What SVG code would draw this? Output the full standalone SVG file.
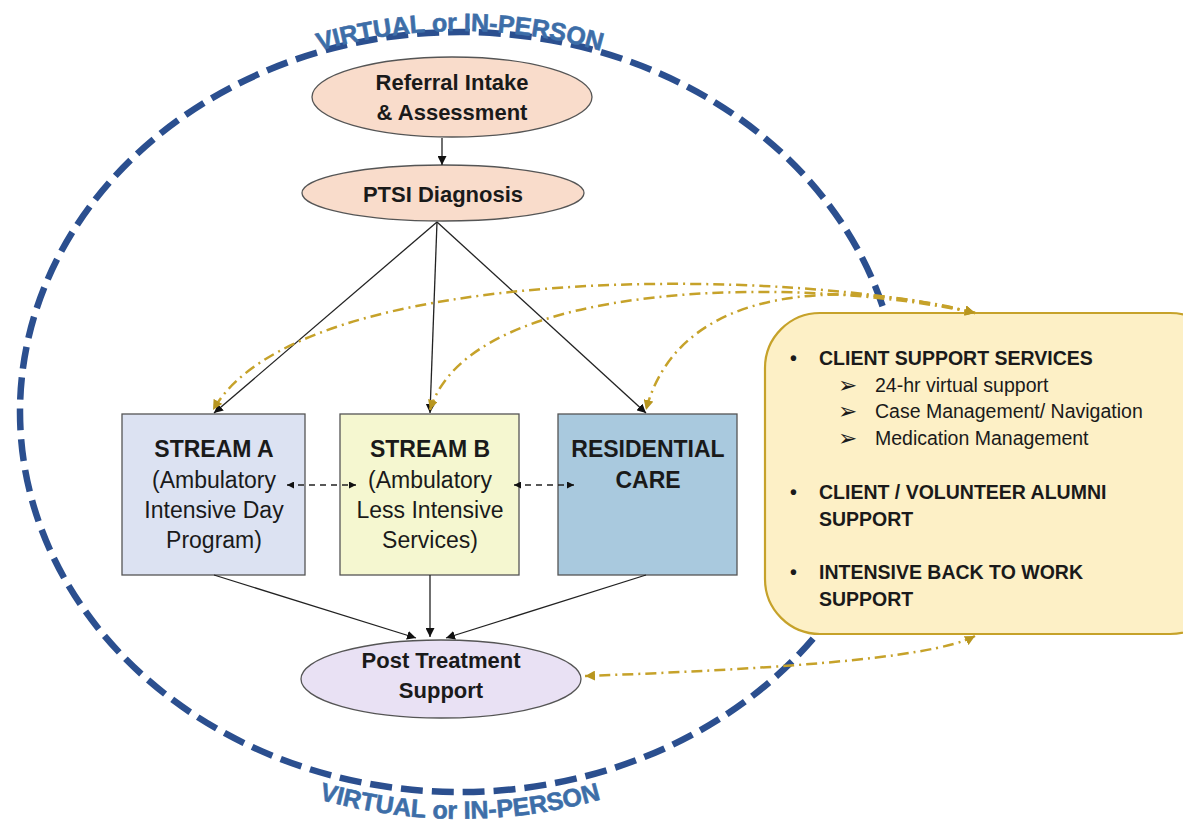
<svg xmlns="http://www.w3.org/2000/svg" width="1183" height="827" viewBox="0 0 1183 827">
<style>
  .t{font-family:"Liberation Sans",Arial,sans-serif;fill:#1a1a1a;text-anchor:middle}
  .b{font-weight:bold}
  .node{stroke:#555;stroke-width:1.3}
  .solid{stroke:#222;stroke-width:1.3;fill:none;marker-end:url(#ah)}
  .dash{stroke:#222;stroke-width:1.5;fill:none;stroke-dasharray:6 5;marker-start:url(#ahs);marker-end:url(#ahs)}
  .gold{stroke:#c6a22a;stroke-width:2.5;fill:none;stroke-dasharray:11 5 2 5;marker-start:url(#gah);marker-end:url(#gah)}
  .arcText{font-family:"Liberation Sans",Arial,sans-serif;font-weight:bold;font-size:25px;fill:#3d6ea8;stroke:#3d6ea8;stroke-width:0.6}
  .bx{font-family:"Liberation Sans",Arial,sans-serif;fill:#1a1a1a;font-size:19.5px}
  .arr{font-family:"DejaVu Sans",sans-serif;fill:#1a1a1a;font-size:23px}
</style>
<defs>
  <marker id="ah" viewBox="0 0 10 10" refX="10" refY="5" markerWidth="9" markerHeight="9" markerUnits="userSpaceOnUse" orient="auto"><path d="M0,0 L10,5 L0,10 z" fill="#111"/></marker>
  <marker id="ahs" viewBox="0 0 10 10" refX="10" refY="5" markerWidth="7" markerHeight="7" markerUnits="userSpaceOnUse" orient="auto-start-reverse"><path d="M0,0 L10,5 L0,10 z" fill="#111"/></marker>
  <marker id="gah" viewBox="0 0 10 10" refX="10" refY="5" markerWidth="10" markerHeight="10" markerUnits="userSpaceOnUse" orient="auto-start-reverse"><path d="M0,0 L10,5 L0,10 z" fill="#b8961f"/></marker>
  <path id="topArc" d="M 18 412 A 442 381 0 0 1 902 412"/>
  <path id="botArc" d="M 0 412 A 460 407 0 0 0 920 412"/>
</defs>
<rect width="1183" height="827" fill="#ffffff"/>

<g id="boundary">
  <ellipse cx="460" cy="412" rx="440" ry="380" fill="none" stroke="#2b4f8f" stroke-width="6.5" stroke-dasharray="22 9"/>
  <text class="arcText"><textPath href="#topArc" startOffset="50%" text-anchor="middle">VIRTUAL or IN-PERSON</textPath></text>
  <text class="arcText"><textPath href="#botArc" startOffset="50%" text-anchor="middle">VIRTUAL or IN-PERSON</textPath></text>
</g>

<g id="referral">
  <ellipse class="node" cx="452" cy="97" rx="140" ry="40" fill="#f9dccb"/>
  <text class="t b" x="452" y="90" font-size="22">Referral Intake</text>
  <text class="t b" x="452" y="120" font-size="22">&amp; Assessment</text>
</g>

<g id="ptsi">
  <ellipse class="node" cx="443" cy="193" rx="141" ry="28" fill="#f9dccb"/>
  <text class="t b" x="443" y="202" font-size="22">PTSI Diagnosis</text>
</g>

<g id="streamA">
  <rect class="node" x="122" y="414" width="183" height="161" fill="#dce2f2"/>
  <text class="t b" x="214" y="457" font-size="23">STREAM A</text>
  <text class="t" x="214" y="488" font-size="23">(Ambulatory</text>
  <text class="t" x="214" y="518" font-size="23">Intensive Day</text>
  <text class="t" x="214" y="548" font-size="23">Program)</text>
</g>

<g id="streamB">
  <rect class="node" x="340" y="414" width="179" height="161" fill="#f5f7d0"/>
  <text class="t b" x="430" y="457" font-size="23">STREAM B</text>
  <text class="t" x="430" y="488" font-size="23">(Ambulatory</text>
  <text class="t" x="430" y="518" font-size="23">Less Intensive</text>
  <text class="t" x="430" y="548" font-size="23">Services)</text>
</g>

<g id="residential">
  <rect class="node" x="558" y="414" width="179" height="161" fill="#a9c9de"/>
  <text class="t b" x="648" y="457" font-size="23">RESIDENTIAL</text>
  <text class="t b" x="648" y="488" font-size="23">CARE</text>
</g>

<g id="postTreatment">
  <ellipse class="node" cx="441" cy="679" rx="140" ry="39" fill="#e9e1f4"/>
  <text class="t b" x="441" y="668" font-size="22">Post Treatment</text>
  <text class="t b" x="441" y="698" font-size="22">Support</text>
</g>

<g id="supportBox">
  <rect x="765" y="313" width="460" height="321" rx="55" ry="55" fill="#fdf0c6" stroke="#c6a22a" stroke-width="2.2"/>
  <text class="bx b" x="790" y="365">•</text>
  <text class="bx b" x="819" y="365">CLIENT SUPPORT SERVICES</text>
  <text class="arr" x="838" y="393">➢</text>
  <text class="bx" x="875" y="392">24-hr virtual support</text>
  <text class="arr" x="838" y="419">➢</text>
  <text class="bx" x="875" y="418">Case Management/ Navigation</text>
  <text class="arr" x="838" y="446">➢</text>
  <text class="bx" x="875" y="445">Medication Management</text>
  <text class="bx b" x="790" y="499">•</text>
  <text class="bx b" x="819" y="499">CLIENT / VOLUNTEER ALUMNI</text>
  <text class="bx b" x="819" y="526">SUPPORT</text>
  <text class="bx b" x="790" y="579">•</text>
  <text class="bx b" x="819" y="579">INTENSIVE BACK TO WORK</text>
  <text class="bx b" x="819" y="606">SUPPORT</text>
</g>

<g id="connectors">
  <line class="solid" x1="442" y1="138" x2="442" y2="165"/>
  <line class="solid" x1="437" y1="222" x2="214" y2="413"/>
  <line class="solid" x1="437" y1="222" x2="430" y2="413"/>
  <line class="solid" x1="437" y1="222" x2="646" y2="413"/>
  <line class="solid" x1="214" y1="575" x2="416" y2="638"/>
  <line class="solid" x1="430" y1="575" x2="430" y2="637"/>
  <line class="solid" x1="646" y1="575" x2="446" y2="638"/>
  <line class="dash" x1="287" y1="485" x2="356" y2="485"/>
  <line class="dash" x1="514" y1="485" x2="574" y2="485"/>
  <path class="gold" d="M 975 313 C 800 268, 300 258, 213 410"/>
  <path class="gold" d="M 975 313 C 800 275, 470 278, 430 410"/>
  <path class="gold" d="M 975 313 C 850 280, 680 280, 646 410"/>
  <path class="gold" d="M 975 636 C 930 660, 750 670, 585 676"/>
</g>
</svg>
